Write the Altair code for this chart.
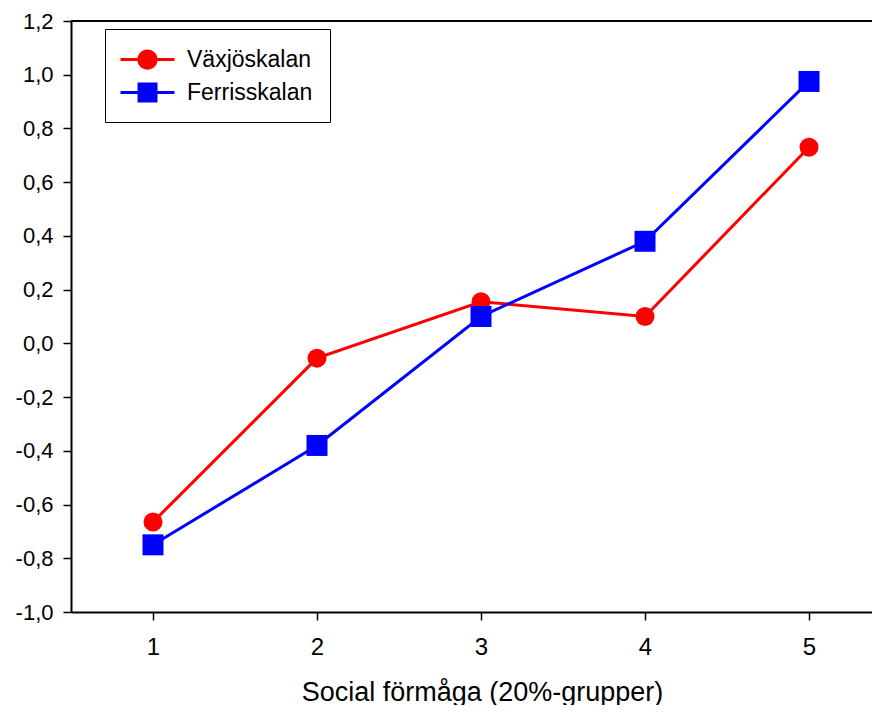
import altair as alt
import pandas as pd

groups = [1, 2, 3, 4, 5]
series_names = ["Växjöskalan", "Ferrisskalan"]
vaxjo = [-0.665, -0.055, 0.155, 0.10, 0.73]
ferris = [-0.75, -0.38, 0.10, 0.38, 0.975]
y_ticks = [-1.0, -0.8, -0.6, -0.4, -0.2, 0.0, 0.2, 0.4, 0.6, 0.8, 1.0, 1.2]
x_title = "Social förmåga (20%-grupper)"

rows = []
for name, vals in zip(series_names, [vaxjo, ferris]):
    for g, v in zip(groups, vals):
        rows.append({"grupp": g, "värde": v, "serie": name})
df = pd.DataFrame(rows)

FONT = "Liberation Sans, Arial, sans-serif"
colors = ["#ff0000", "#0000ff"]

# legend glyphs: a horizontal line with a marker in the middle (unit = sqrt(size)/2)
bar = "M-2,-0.11L2,-0.11L2,0.11L-2,0.11Z"
circ = bar + "M-0.75,0A0.75,0.75,0,1,1,0.75,0A0.75,0.75,0,1,1,-0.75,0Z"
sq = bar + "M-0.74,-0.74L0.74,-0.74L0.74,0.74L-0.74,0.74Z"

legend = alt.Legend(
    title=None, orient="none", legendX=34, legendY=8,
    symbolSize=729, symbolStrokeWidth=0, symbolOpacity=1, symbolOffset=12,
    labelFont=FONT, labelFontSize=23, labelColor="black", labelOffset=26,
    padding=17, rowPadding=7, strokeColor="black", fillColor="white",
)

xs = alt.X("grupp:Q",
           scale=alt.Scale(domain=[0.5, 5.384], nice=False, zero=False),
           axis=alt.Axis(values=groups, title=x_title, grid=False,
                         labelFont=FONT, labelFontSize=24, labelColor="black",
                         labelPadding=15, tickSize=8, tickWidth=1.5, tickColor="black",
                         domainColor="black", domainWidth=2,
                         titleFont=FONT, titleFontSize=27, titleFontWeight="normal",
                         titleColor="black", titleX=411, titleY=88,
                         titleAlign="center", titleBaseline="alphabetic",
                         labelExpr="format(datum.value, 'd')"))
ys = alt.Y("värde:Q",
           scale=alt.Scale(domain=[-1.0, 1.2], nice=False, zero=False),
           axis=alt.Axis(values=y_ticks, title=None, grid=False,
                         labelFont=FONT, labelFontSize=22, labelColor="black",
                         labelPadding=10, tickSize=8, tickWidth=1.5, tickColor="black",
                         domainColor="black", domainWidth=2,
                         labelExpr="(datum.value < -0.001 ? '-' : '') + replace(format(abs(datum.value), '.1f'), '.', ',')"))

base = alt.Chart(df)
layers = []
shapes = ["circle", "square"]
sizes = [360, 441]
for name, col, shp, sz in zip(series_names, colors, shapes, sizes):
    sub = base.transform_filter(alt.datum.serie == name)
    layers.append(sub.mark_line(strokeWidth=3, color=col).encode(x=xs, y=ys))
    layers.append(sub.mark_point(filled=True, opacity=1, color=col, shape=shp, size=sz).encode(x=xs, y=ys))

legend_layer = base.mark_point(filled=True, opacity=0).encode(
    x=xs, y=ys,
    color=alt.Color("serie:N", scale=alt.Scale(domain=series_names, range=colors), legend=legend),
    shape=alt.Shape("serie:N", scale=alt.Scale(domain=series_names, range=[circ, sq]), legend=legend),
)

top = alt.Chart(pd.DataFrame({"y": [1.2]})).mark_rule(color="black", strokeWidth=2).encode(y=alt.Y("y:Q"))

chart = alt.layer(*layers, legend_layer, top).properties(
    width=801, height=591,
    autosize=alt.AutoSizeParams(type="none"),
    padding={"left": 63, "top": 13, "right": 0, "bottom": 93},
).configure_view(stroke=None).configure(background="white")

chart.save("out.html", embed_options={"renderer": "svg", "actions": False})
